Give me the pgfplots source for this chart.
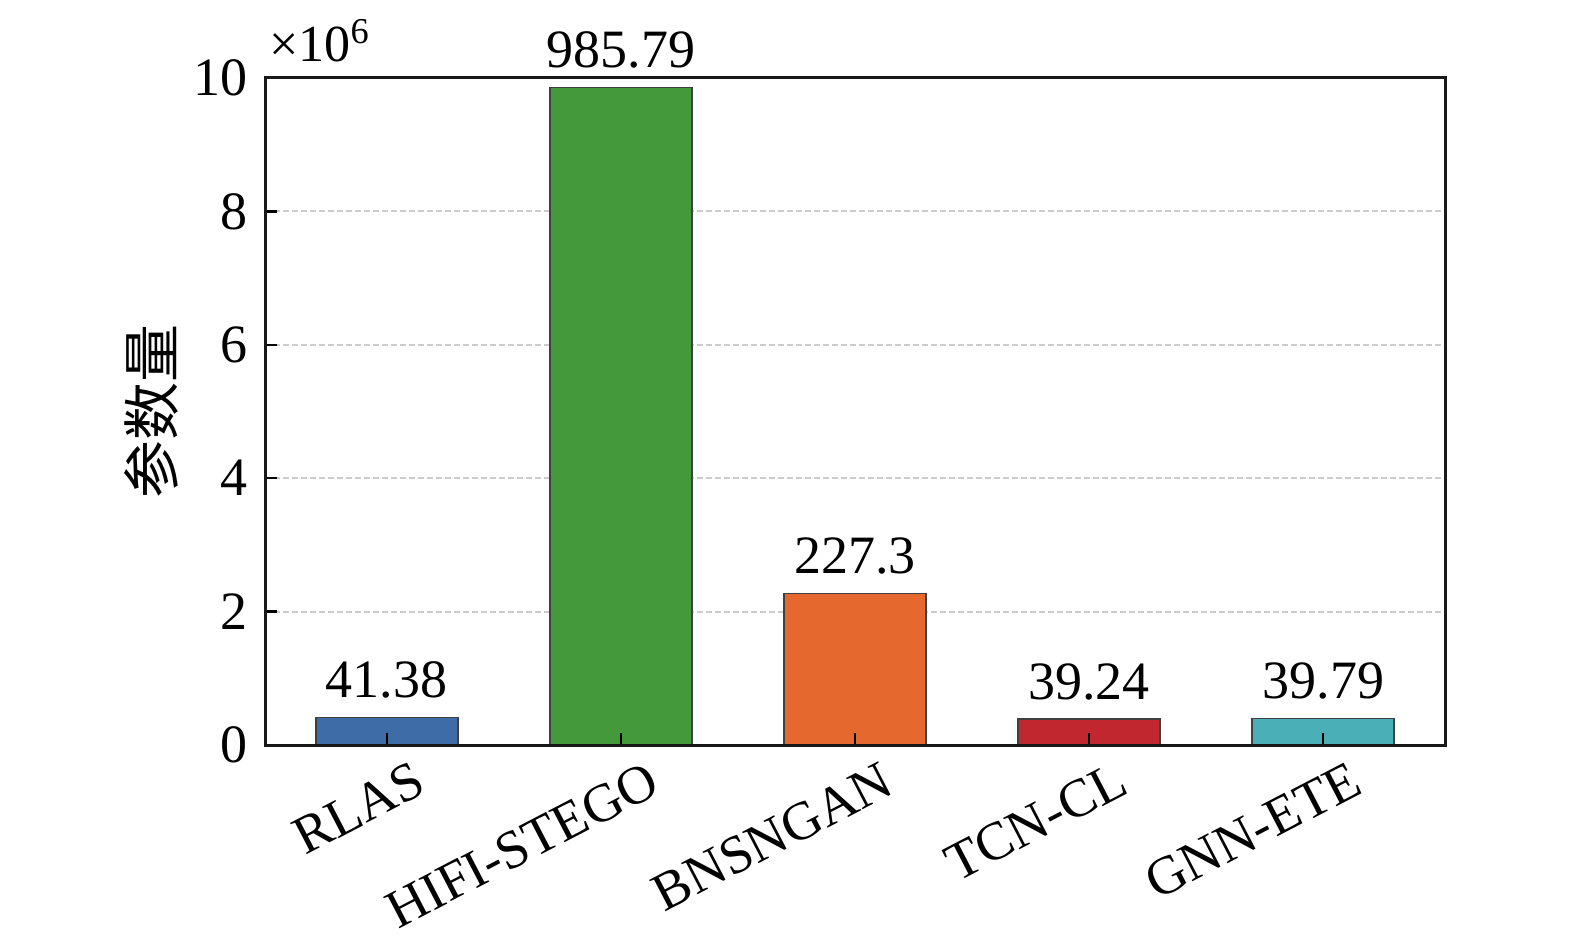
\documentclass[border=0pt]{standalone}
\usepackage{fontspec}
\setmainfont{Liberation Serif}
\newfontfamily\cjk{Noto Sans CJK SC}
\usepackage{pgfplots}
\pgfplotsset{compat=1.18}
\definecolor{cA}{HTML}{3D6CA6}
\definecolor{cB}{HTML}{44993B}
\definecolor{cC}{HTML}{E5682E}
\definecolor{cD}{HTML}{C1272F}
\definecolor{cE}{HTML}{4AAFB7}
\begin{document}
\begin{tikzpicture}
\useasboundingbox (0,0) rectangle (787.5pt,469pt);
\begin{axis}[
  at={(132.5pt,96.5pt)}, anchor=south west,
  scale only axis, width=590pt, height=333.5pt,
  ybar, bar width=71pt, bar shift=0pt,
  xmin=-0.52, xmax=4.52, ymin=0, ymax=10,
  xtick={0,1,2,3,4},
  xticklabels={RLAS,HIFI-STEGO,BNSNGAN,TCN-CL,GNN-ETE},
  ytick={0,2,4,6,8,10},
  xtick pos=bottom, ytick pos=left,
  tick align=inside, major tick length=6pt,
  tick style={line width=1.2pt, black},
  axis line style={line width=1.5pt, black!90},
  axis on top,
  font=\fontsize{27}{30}\selectfont,
  /pgf/number format/assume math mode=true,
  yticklabel style={xshift=-5pt},
  xticklabel style={rotate=27.5, anchor=north east, xshift=11pt, yshift=-9pt},
  ylabel={\cjk 参数量},
  ylabel style={font=\fontsize{29}{32}\selectfont\cjk, yshift=1pt},
  point meta=explicit symbolic,
  nodes near coords,
  nodes near coords style={font=\fontsize{27}{30}\selectfont, black, inner sep=3pt, yshift=6pt},
  every axis plot/.append style={draw=black!75, line width=0.8pt},
  clip=false,
]
\foreach \g in {2,4,6,8} {
  \edef\tmp{\noexpand\draw[black!20, line width=0.9pt, dash pattern=on 3pt off 1.5pt] (axis cs:-0.52,\g) -- (axis cs:4.52,\g);}
  \tmp
}
\addplot[fill=cA] coordinates {(0,0.4138) [41.38]};
\addplot[fill=cB] coordinates {(1,9.8579) [985.79]};
\addplot[fill=cC] coordinates {(2,2.273) [227.3]};
\addplot[fill=cD] coordinates {(3,0.3924) [39.24]};
\addplot[fill=cE] coordinates {(4,0.3979) [39.79]};
\node[anchor=south west, inner sep=0pt, font=\fontsize{26}{28}\selectfont] at (rel axis cs:0,1) [yshift=8pt,xshift=2pt] {×10\textsuperscript{6}};
\end{axis}
\end{tikzpicture}
\end{document}
